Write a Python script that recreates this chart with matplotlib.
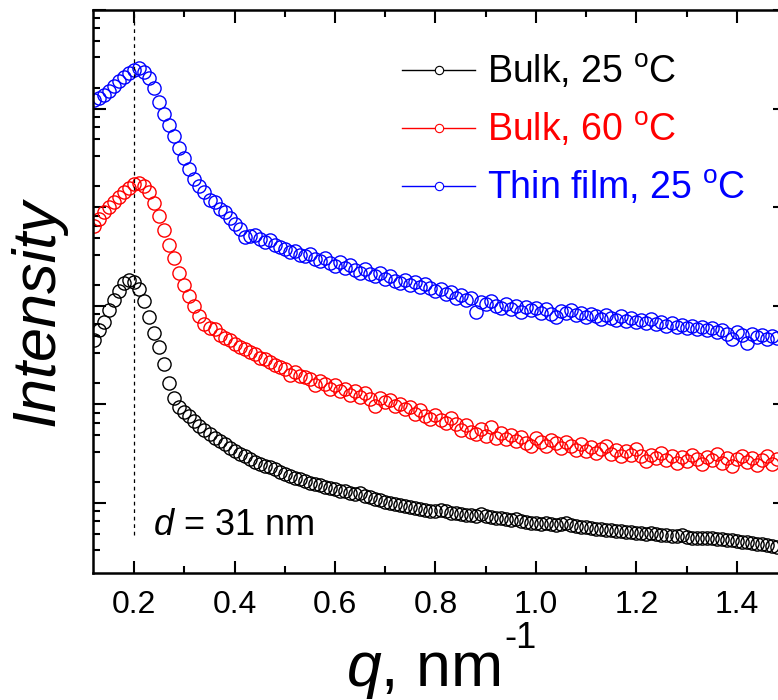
import numpy as np
import matplotlib.pyplot as plt
from matplotlib.lines import Line2D
from matplotlib.ticker import FixedLocator, NullFormatter

plt.rcParams['font.family'] = 'Liberation Sans'
plt.rcParams['mathtext.fontset'] = 'custom'
plt.rcParams['mathtext.rm'] = 'Liberation Sans'
plt.rcParams['mathtext.it'] = 'Liberation Sans:italic'

# q grid, nm^-1
q = np.round(np.arange(0.12, 1.4801, 0.01), 2)

# log10 of intensity (arb. units)
bulk25 = np.array([
    1.65, 1.75, 1.84, 1.96, 2.06, 2.15, 2.23, 2.26, 2.24, 2.17,
    2.05, 1.89, 1.72, 1.58, 1.41, 1.22, 1.06, 0.97, 0.92, 0.88,
    0.83, 0.78, 0.74, 0.70, 0.66, 0.63, 0.60, 0.56, 0.53, 0.50,
    0.48, 0.45, 0.42, 0.40, 0.38, 0.36, 0.34, 0.31, 0.29, 0.27,
    0.25, 0.24, 0.22, 0.20, 0.19, 0.18, 0.16, 0.15, 0.14, 0.12,
    0.12, 0.10, 0.09, 0.10, 0.07, 0.06, 0.04, 0.03, 0.01, 0.00,
    -0.01, -0.02, -0.03, -0.04, -0.05, -0.06, -0.07, -0.08, -0.08, -0.07,
    -0.08, -0.10, -0.10, -0.11, -0.12, -0.12, -0.13, -0.11, -0.13, -0.14,
    -0.15, -0.15, -0.16, -0.17, -0.16, -0.18, -0.19, -0.20, -0.20, -0.21,
    -0.20, -0.21, -0.22, -0.21, -0.20, -0.22, -0.23, -0.24, -0.24, -0.25,
    -0.26, -0.26, -0.27, -0.27, -0.28, -0.28, -0.29, -0.29, -0.30, -0.30,
    -0.31, -0.30, -0.31, -0.32, -0.32, -0.33, -0.33, -0.32, -0.34, -0.35,
    -0.35, -0.35, -0.36, -0.36, -0.37, -0.37, -0.38, -0.38, -0.39, -0.40,
    -0.40, -0.41, -0.42, -0.42, -0.43, -0.44, -0.45])

bulk60 = np.array([
    2.81, 2.88, 2.95, 3.00, 3.05, 3.10, 3.15, 3.19, 3.24, 3.25,
    3.22, 3.15, 3.04, 2.91, 2.77, 2.62, 2.48, 2.33, 2.21, 2.10,
    2.00, 1.90, 1.82, 1.77, 1.76, 1.70, 1.67, 1.65, 1.61, 1.58,
    1.56, 1.53, 1.51, 1.47, 1.46, 1.43, 1.40, 1.38, 1.36, 1.30,
    1.33, 1.29, 1.28, 1.26, 1.20, 1.24, 1.21, 1.16, 1.20, 1.14,
    1.16, 1.10, 1.14, 1.08, 1.12, 1.05, 0.98, 1.06, 1.02, 1.04,
    0.98, 1.00, 0.95, 0.97, 0.90, 0.94, 0.88, 0.85, 0.89, 0.84,
    0.81, 0.86, 0.80, 0.74, 0.79, 0.72, 0.70, 0.75, 0.68, 0.77,
    0.66, 0.71, 0.65, 0.69, 0.63, 0.67, 0.61, 0.58, 0.66, 0.62,
    0.58, 0.64, 0.61, 0.56, 0.62, 0.58, 0.54, 0.60, 0.53, 0.57,
    0.51, 0.55, 0.58, 0.50, 0.54, 0.48, 0.53, 0.49, 0.55, 0.48,
    0.43, 0.49, 0.46, 0.51, 0.44, 0.48, 0.41, 0.47, 0.43, 0.49,
    0.45, 0.40, 0.47, 0.44, 0.50, 0.41, 0.46, 0.38, 0.45, 0.48,
    0.42, 0.46, 0.39, 0.44, 0.48, 0.40, 0.45])

film25 = np.array([
    4.09, 4.11, 4.14, 4.18, 4.23, 4.28, 4.32, 4.36, 4.39, 4.41,
    4.37, 4.31, 4.21, 4.07, 3.95, 3.83, 3.72, 3.60, 3.50, 3.39,
    3.29, 3.21, 3.15, 3.07, 3.05, 2.98, 2.95, 2.89, 2.83, 2.78,
    2.70, 2.71, 2.72, 2.68, 2.65, 2.67, 2.62, 2.60, 2.58, 2.55,
    2.56, 2.52, 2.50, 2.53, 2.47, 2.45, 2.48, 2.43, 2.40, 2.44,
    2.38, 2.41, 2.36, 2.33, 2.37, 2.32, 2.30, 2.33, 2.27, 2.30,
    2.25, 2.23, 2.26, 2.21, 2.24, 2.19, 2.22, 2.18, 2.15, 2.17,
    2.12, 2.14, 2.08, 2.11, 2.06, 2.08, 1.94, 2.04, 2.02, 2.05,
    2.00, 1.98, 2.02, 1.97, 2.00, 1.94, 1.99, 1.96, 1.98, 1.93,
    1.97, 1.92, 1.89, 1.95, 1.93, 1.96, 1.91, 1.93, 1.89, 1.92,
    1.90, 1.87, 1.91, 1.88, 1.86, 1.90, 1.85, 1.88, 1.84, 1.86,
    1.83, 1.87, 1.82, 1.84, 1.80, 1.83, 1.79, 1.81, 1.77, 1.80,
    1.76, 1.78, 1.75, 1.77, 1.73, 1.75, 1.71, 1.66, 1.73, 1.70,
    1.62, 1.71, 1.68, 1.70, 1.66, 1.69, 1.67])

labels = ['Bulk, 25 $^{\\mathrm{o}}$C', 'Bulk, 60 $^{\\mathrm{o}}$C', 'Thin film, 25 $^{\\mathrm{o}}$C']
colors = ['black', 'red', 'blue']
d_peak = 0.2

W, H = 778, 700
fig = plt.figure(figsize=(W / 100, H / 100), dpi=100)
ax = fig.add_axes([92.5 / W, 127 / H, (785 - 92.5) / W, 563 / H])

for y, c in zip([bulk25, bulk60, film25], colors):
    ax.plot(q, 10 ** y, 'o', ms=9.5, mfc='none', mec=c, mew=1.0)

ax.set_yscale('log')
ax.set_xlim(0.117, 1.496)
ax.set_ylim(10 ** -0.71, 1e5)

# dashed marker of the peak position
ax.axvline(d_peak, ymin=38 / 563, ymax=1, color='black', lw=0.9, ls=(0, (3, 3)))

ax.set_xticks([0.2, 0.4, 0.6, 0.8, 1.0, 1.2, 1.4])
ax.set_xticklabels(['0.2', '0.4', '0.6', '0.8', '1.0', '1.2', '1.4'])
ax.set_xticks(np.arange(0.3, 1.5, 0.2), minor=True)
ax.yaxis.set_major_locator(FixedLocator([10.0 ** k for k in range(-1, 6)]))
ax.yaxis.set_minor_locator(FixedLocator([m * 10.0 ** k for k in range(-1, 5) for m in [1.63, 3.3, 4.9, 6.5, 8.2]]))
ax.yaxis.set_major_formatter(NullFormatter())
ax.yaxis.set_minor_formatter(NullFormatter())

ax.tick_params(which='both', direction='in', top=True, right=True, width=1.5)
ax.tick_params(which='major', length=9)
ax.tick_params(which='minor', length=5)
ax.tick_params(axis='x', labelsize=23, pad=12)
for s in ax.spines.values():
    s.set_linewidth(1.8)

handles = [Line2D([], [], color=c, lw=1, marker='o', ms=6, mfc='white', mec=c, mew=0.8) for c in colors]
leg = ax.legend(handles, labels, loc='upper left', bbox_to_anchor=(402 / W, 1 - 53 / H),
                bbox_transform=fig.transFigure, frameon=False, fontsize=27,
                handlelength=1.95, handletextpad=0.32, labelspacing=0.52,
                borderpad=0, borderaxespad=0)
for t, c in zip(leg.get_texts(), colors):
    t.set_color(c)

fig.text(153 / W, 1 - 535 / H, '$\\mathit{d}$ = 31 nm', fontsize=26, va='baseline')
fig.text(38 / W, 1 - 312 / H, 'Intensity', fontsize=44, style='italic',
         rotation=90, ha='center', va='center')
fig.text(346 / W, 1 - 686 / H, '$\\mathit{q}$, nm', fontsize=45, va='baseline')
fig.text(504 / W, 1 - 648 / H, '-1', fontsize=26, va='baseline')

fig.savefig('out.png', dpi=100)
